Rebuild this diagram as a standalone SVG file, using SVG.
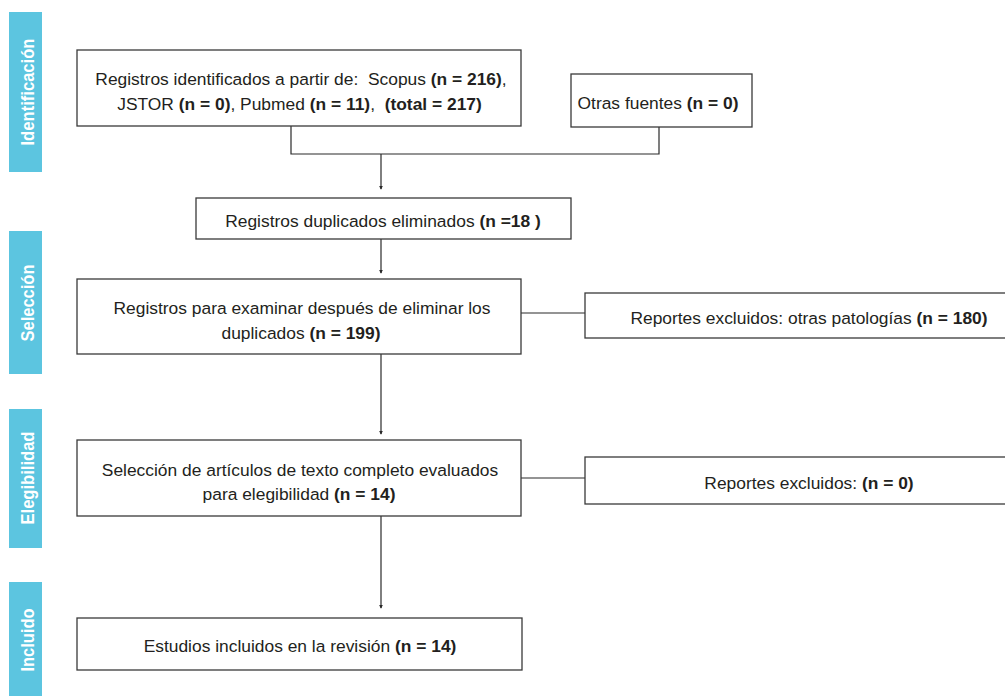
<svg xmlns="http://www.w3.org/2000/svg" width="1005" height="696" viewBox="0 0 1005 696">
<defs>
<style>
.bar{fill:#5cc5e0}
.side{font-family:"Liberation Sans","Arial",sans-serif;font-weight:bold;font-size:18px;fill:#fff;text-anchor:middle}
.box{fill:#fff;stroke:#3a3a3a;stroke-width:1.3}
.t{font-family:"Liberation Sans","Arial",sans-serif;font-size:17.4px;fill:#231f20;text-anchor:middle}
.b{font-weight:bold}
.ln{fill:none;stroke:#2a2a2a;stroke-width:1.2}
</style>
<marker id="ah" viewBox="0 0 6 6" refX="5" refY="3" markerWidth="4" markerHeight="4" orient="auto" markerUnits="userSpaceOnUse">
<path d="M0,0 L6,3 L0,6 z" fill="#2a2a2a"/>
</marker>
</defs>
<rect width="1005" height="696" fill="#fff"/>
<g id="phase-identificacion">
<rect class="bar" x="9" y="12" width="33" height="160"/>
<text class="side" transform="translate(34,92) rotate(-90)" textLength="107" lengthAdjust="spacingAndGlyphs">Identificación</text>
</g>
<g id="phase-seleccion">
<rect class="bar" x="9" y="231" width="33" height="143"/>
<text class="side" transform="translate(34,303) rotate(-90)" textLength="77" lengthAdjust="spacingAndGlyphs">Selección</text>
</g>
<g id="phase-elegibilidad">
<rect class="bar" x="9" y="409" width="33" height="139"/>
<text class="side" transform="translate(34,478) rotate(-90)" textLength="93" lengthAdjust="spacingAndGlyphs">Elegibilidad</text>
</g>
<g id="phase-incluido">
<rect class="bar" x="9" y="582" width="33" height="114"/>
<text class="side" transform="translate(34,640) rotate(-90)" textLength="63" lengthAdjust="spacingAndGlyphs">Incluido</text>
</g>
<g id="connectors">
<path class="ln" d="M291,126 V154 H659 V127"/>
<path class="ln" d="M381,154 V189" marker-end="url(#ah)"/>
<path class="ln" d="M381,239 V273" marker-end="url(#ah)"/>
<path class="ln" d="M521,313 H585"/>
<path class="ln" d="M381,354 V434" marker-end="url(#ah)"/>
<path class="ln" d="M521,478 H585"/>
<path class="ln" d="M381,516 V608" marker-end="url(#ah)"/>
</g>
<g id="n-identificados">
<rect class="box" x="77" y="50" width="444" height="76"/>
<text class="t" x="301" y="85" xml:space="preserve">Registros identificados a partir de:  Scopus <tspan class="b">(n = 216)</tspan>,</text>
<text class="t" x="299.5" y="110" xml:space="preserve">JSTOR <tspan class="b">(n = 0)</tspan>, Pubmed <tspan class="b">(n = 11)</tspan>,  <tspan class="b">(total = 217)</tspan></text>
</g>
<g id="n-otras">
<rect class="box" x="571" y="74" width="181" height="53"/>
<text class="t" x="658" y="108.5">Otras fuentes <tspan class="b">(n = 0)</tspan></text>
</g>
<g id="n-duplicados">
<rect class="box" x="196" y="198" width="375" height="41"/>
<text class="t" x="383" y="226.5">Registros duplicados eliminados <tspan class="b">(n =18 )</tspan></text>
</g>
<g id="n-examinar">
<rect class="box" x="77" y="279" width="444" height="75"/>
<text class="t" x="302" y="314">Registros para examinar después de eliminar los</text>
<text class="t" x="301" y="339">duplicados <tspan class="b">(n = 199)</tspan></text>
</g>
<g id="n-excluidos1">
<rect class="box" x="585" y="293" width="430" height="45"/>
<text class="t" x="809" y="323.5">Reportes excluidos: otras patologías <tspan class="b">(n = 180)</tspan></text>
</g>
<g id="n-texto-completo">
<rect class="box" x="77" y="440" width="444" height="76"/>
<text class="t" x="300" y="475.5">Selección de artículos de texto completo evaluados</text>
<text class="t" x="299" y="500">para elegibilidad <tspan class="b">(n = 14)</tspan></text>
</g>
<g id="n-excluidos2">
<rect class="box" x="585" y="457" width="430" height="47"/>
<text class="t" x="809" y="488.5">Reportes excluidos: <tspan class="b">(n = 0)</tspan></text>
</g>
<g id="n-incluidos">
<rect class="box" x="77" y="618" width="445" height="52"/>
<text class="t" x="300" y="652">Estudios incluidos en la revisión <tspan class="b">(n = 14)</tspan></text>
</g>
</svg>
